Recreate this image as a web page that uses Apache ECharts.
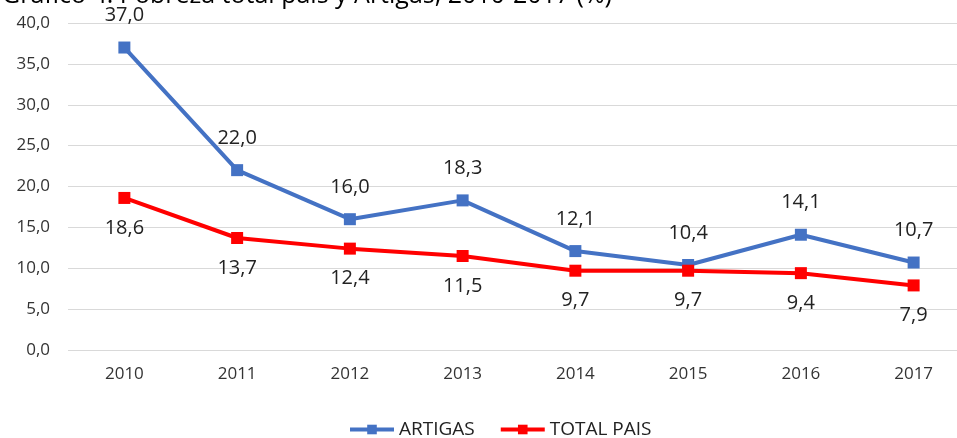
<!DOCTYPE html>
<html>
<head>
<meta charset="utf-8">
<script src="https://cdn.jsdelivr.net/npm/echarts@6/dist/echarts.min.js"></script>
<style>
  html, body { margin: 0; padding: 0; background: #fff; }
  #chart { width: 957px; height: 438px; }
</style>
</head>
<body>
<div id="chart"></div>
<script>
// datos
var years = ['2010', '2011', '2012', '2013', '2014', '2015', '2016', '2017'];
var artigas = [37.0, 22.0, 16.0, 18.3, 12.1, 10.4, 14.1, 10.7];
var totalPais = [18.6, 13.7, 12.4, 11.5, 9.7, 9.7, 9.4, 7.9];

var fontFam = '"Open Sans", "Noto Sans", sans-serif';
var fmt = function (v) { return v.toFixed(1).replace('.', ','); };

var chart = echarts.init(document.getElementById('chart'));
chart.setOption({
    animation: false,
    textStyle: { fontFamily: fontFam },
    title: {
        text: 'Gráfico 4. Pobreza total país y Artigas, 2010-2017 (%)',
        left: -3,
        top: -22,
        textStyle: { fontSize: 25, fontWeight: 'normal', color: '#000', fontFamily: fontFam }
    },
    grid: { left: 68, width: 902, top: 23, bottom: 88, outerBoundsMode: 'none' },
    legend: {
        bottom: -6,
        left: 343,
        itemWidth: 44,
        itemHeight: 12,
        itemGap: 24,
        itemStyle: { borderWidth: 0 },
        lineStyle: { width: 4 },
        textStyle: { fontSize: 19, color: '#222', fontFamily: fontFam },
        data: ['ARTIGAS', 'TOTAL PAIS']
    },
    xAxis: {
        type: 'category',
        data: years,
        boundaryGap: true,
        axisLine: { show: false },
        axisTick: { show: false },
        axisLabel: { fontSize: 17, color: '#333', margin: 16 }
    },
    yAxis: {
        type: 'value',
        min: 0,
        max: 40,
        interval: 5,
        axisLabel: { fontSize: 17, color: '#333', margin: 18, formatter: fmt },
        splitLine: { lineStyle: { color: '#d9d9d9', width: 1 } }
    },
    series: [
        {
            name: 'ARTIGAS',
            type: 'line',
            data: artigas,
            symbol: 'rect',
            symbolSize: 12,
            lineStyle: { color: '#4472C4', width: 4 },
            itemStyle: { color: '#4472C4' },
            label: {
                show: true,
                position: 'top',
                distance: 16,
                fontSize: 20,
                color: '#222',
                formatter: function (p) { return fmt(p.value); }
            }
        },
        {
            name: 'TOTAL PAIS',
            type: 'line',
            data: totalPais,
            symbol: 'rect',
            symbolSize: 12,
            lineStyle: { color: '#FF0000', width: 4 },
            itemStyle: { color: '#FF0000' },
            label: {
                show: true,
                position: 'bottom',
                distance: 14,
                fontSize: 20,
                color: '#222',
                formatter: function (p) { return fmt(p.value); }
            }
        }
    ]
});
</script>
</body>
</html>
